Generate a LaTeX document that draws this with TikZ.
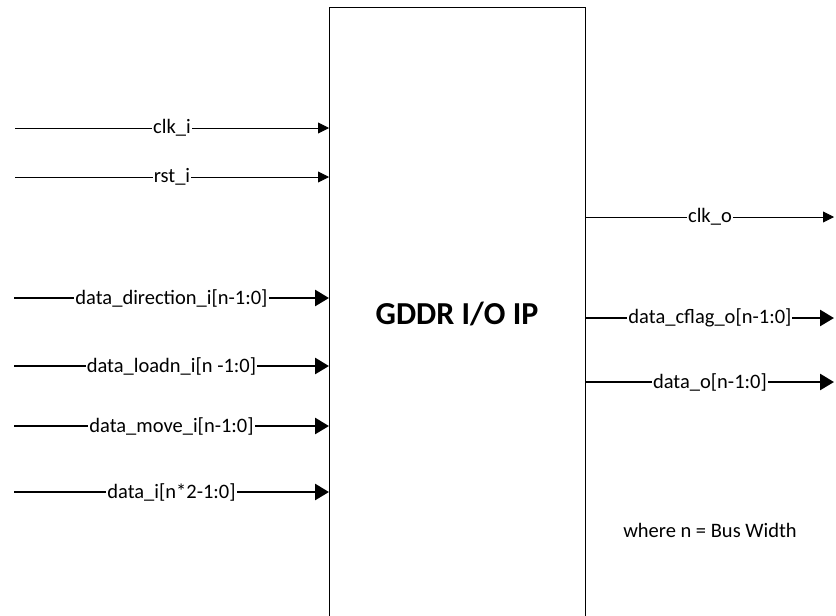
\documentclass[tikz,border=0pt]{standalone}
\usepackage{fontspec}
\setmainfont{Carlito}
\usetikzlibrary{arrows.meta}

\tikzset{
  sig/.style={line width=0.9pt, -{Triangle[length=11pt,width=11pt]}},
  bus/.style={line width=2.6pt, -{Triangle[length=14pt,width=16pt]}},
  lbl/.style={fill=white, inner sep=1pt, font=\fontsize{20.5}{23}\selectfont},
}

\begin{document}
\begin{tikzpicture}[x=1pt, y=-1pt]
  \useasboundingbox (0,0) rectangle (836,616);
  \clip (0,0) rectangle (836,616);

  % the IP block (runs off the bottom)
  \node[draw, line width=0.9pt, anchor=north west, minimum width=256pt,
        minimum height=660pt, inner sep=0pt] (ip) at (329,7) {};
  \node[font=\fontsize{32}{36}\selectfont\bfseries] (title) at (457,314) {GDDR I/O IP};

  % inputs, free ends
  \coordinate (clki) at (15,128);
  \coordinate (rsti) at (15,177);
  \coordinate (diri) at (14,298);
  \coordinate (loadi) at (14,366);
  \coordinate (movei) at (14,426);
  \coordinate (datai) at (14,492);

  % outputs, free ends
  \coordinate (clko) at (834,217);
  \coordinate (cflago) at (834,318);
  \coordinate (datao) at (834,382);

  % thin inputs
  \draw[sig] (clki) -- (clki -| ip.west) node[midway, lbl] {clk\_i};
  \draw[sig] (rsti) -- (rsti -| ip.west) node[midway, lbl] {rst\_i};

  % bus inputs
  \draw[bus] (diri) -- (diri -| ip.west) node[midway, lbl] {data\_direction\_i[n-1:0]};
  \draw[bus] (loadi) -- (loadi -| ip.west) node[midway, lbl] {data\_loadn\_i[n -1:0]};
  \draw[bus] (movei) -- (movei -| ip.west) node[midway, lbl] {data\_move\_i[n-1:0]};
  \draw[bus] (datai) -- (datai -| ip.west) node[midway, lbl] {data\_i[n*2-1:0]};

  % outputs
  \draw[sig] (clko -| ip.east) -- (clko) node[midway, lbl] {clk\_o};
  \draw[bus] (cflago -| ip.east) -- (cflago) node[midway, lbl] {data\_cflag\_o[n-1:0]};
  \draw[bus] (datao -| ip.east) -- (datao) node[midway, lbl] {data\_o[n-1:0]};

  % note
  \node[font=\fontsize{20.5}{23}\selectfont] (note) at (710,530) {where n = Bus Width};
\end{tikzpicture}
\end{document}
